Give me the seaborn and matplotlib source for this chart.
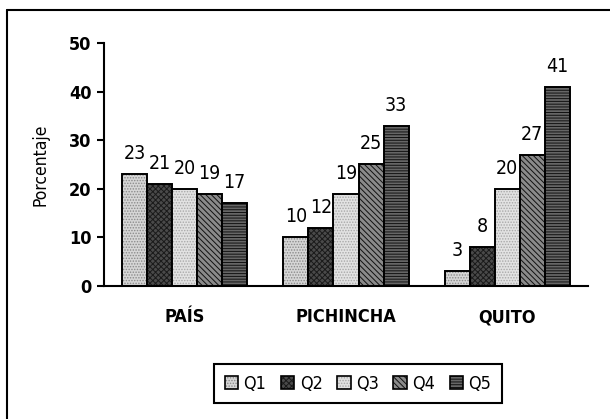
import matplotlib
matplotlib.use("Agg")
import matplotlib.pyplot as plt
from matplotlib.patches import Patch
from matplotlib.lines import Line2D
import seaborn as sns
import pandas as pd

# Porcentaje por quintil en cada zona
zonas = ["PAÍS", "PICHINCHA", "QUITO"]
quintiles = ["Q1", "Q2", "Q3", "Q4", "Q5"]
pais = [23, 21, 20, 19, 17]
pichincha = [10, 12, 19, 25, 33]
quito = [3, 8, 20, 27, 41]
y_ticks = [0, 10, 20, 30, 40, 50]

rows = []
for zona, vals in zip(zonas, [pais, pichincha, quito]):
    for q, v in zip(quintiles, vals):
        rows.append({"zona": zona, "quintil": q, "valor": v})
df = pd.DataFrame(rows)

sns.set_theme(style="white")
plt.rcParams["font.family"] = ["DejaVu Sans"]
plt.rcParams["font.stretch"] = "condensed"
plt.rcParams["text.color"] = "black"
plt.rcParams["axes.labelcolor"] = "black"
plt.rcParams["xtick.color"] = "black"
plt.rcParams["ytick.color"] = "black"
plt.rcParams["hatch.linewidth"] = 0.7

faces = ["#d6d6d6", "#4a4a4a", "#e2e2e2", "#8a8a8a", "#666666"]
hatches = ["......", "xxxxxx", "......", "\\\\\\\\\\\\", "------"]
hatch_cols = ["#8a8a8a", "#1a1a1a", "#a8a8a8", "#111111", "#111111"]

fig = plt.figure(figsize=(6.10, 4.19), dpi=100)
ax = fig.add_axes([104 / 610, 1 - 286 / 419, (588 - 104) / 610, (286 - 43) / 419])

sns.barplot(data=df, x="zona", y="valor", hue="quintil", order=zonas,
            hue_order=quintiles, width=0.775, gap=0, legend=False,
            edgecolor="black", linewidth=1.4, ax=ax)

for cont, fc, h, hc in zip(ax.containers, faces, hatches, hatch_cols):
    for bar in cont:
        bar.set_facecolor(fc)
        bar.set_hatch(h)
        bar._hatch_color = matplotlib.colors.to_rgba(hc)
    ax.bar_label(cont, padding=8, fontsize=14, color="black")

ax.set_ylim(0, 50)
ax.set_xlim(-0.5, 2.5)
ax.set_yticks(y_ticks)
ax.set_yticklabels([str(t) for t in y_ticks], fontsize=13, fontweight="bold")
ax.set_xticks(range(len(zonas)))
ax.set_xticklabels(zonas, fontsize=13, fontweight="bold")
ax.set_xticks([-0.5, 0.5, 1.5, 2.5], minor=True)
ax.tick_params(axis="x", which="major", length=0, pad=16)
ax.tick_params(axis="x", which="minor", length=5, width=1.5, direction="out", color="black")
ax.tick_params(axis="y", length=5, width=1.5, direction="out", color="black", left=True, pad=4)
ax.set_xlabel("")
ax.set_ylabel("Porcentaje", fontsize=12.5, labelpad=14)
for s in ["top", "right"]:
    ax.spines[s].set_visible(False)
for s in ["left", "bottom"]:
    ax.spines[s].set_color("black")
    ax.spines[s].set_linewidth(1.5)

# marco exterior (lado izquierdo y superior)
fig.add_artist(Line2D([7 / 610, 7 / 610], [0, 1 - 10 / 419], color="black", lw=1.5))
fig.add_artist(Line2D([7 / 610, 1], [1 - 10 / 419, 1 - 10 / 419], color="black", lw=1.5))

handles = []
for fc, h, hc in zip(faces, hatches, hatch_cols):
    p = Patch(facecolor=fc, edgecolor="black", hatch=h, linewidth=1.2)
    p._hatch_color = matplotlib.colors.to_rgba(hc)
    handles.append(p)
leg = fig.legend(handles, quintiles, loc="center", bbox_to_anchor=(358 / 610, 1 - 383.5 / 419),
                 ncol=5, frameon=True, fancybox=False, edgecolor="black", framealpha=1,
                 fontsize=13, handlelength=0.75, handleheight=0.75, handletextpad=0.3,
                 columnspacing=0.8, borderpad=0.6, borderaxespad=0)
leg.get_frame().set_linewidth(1.5)

fig.savefig("out.png", dpi=100)
